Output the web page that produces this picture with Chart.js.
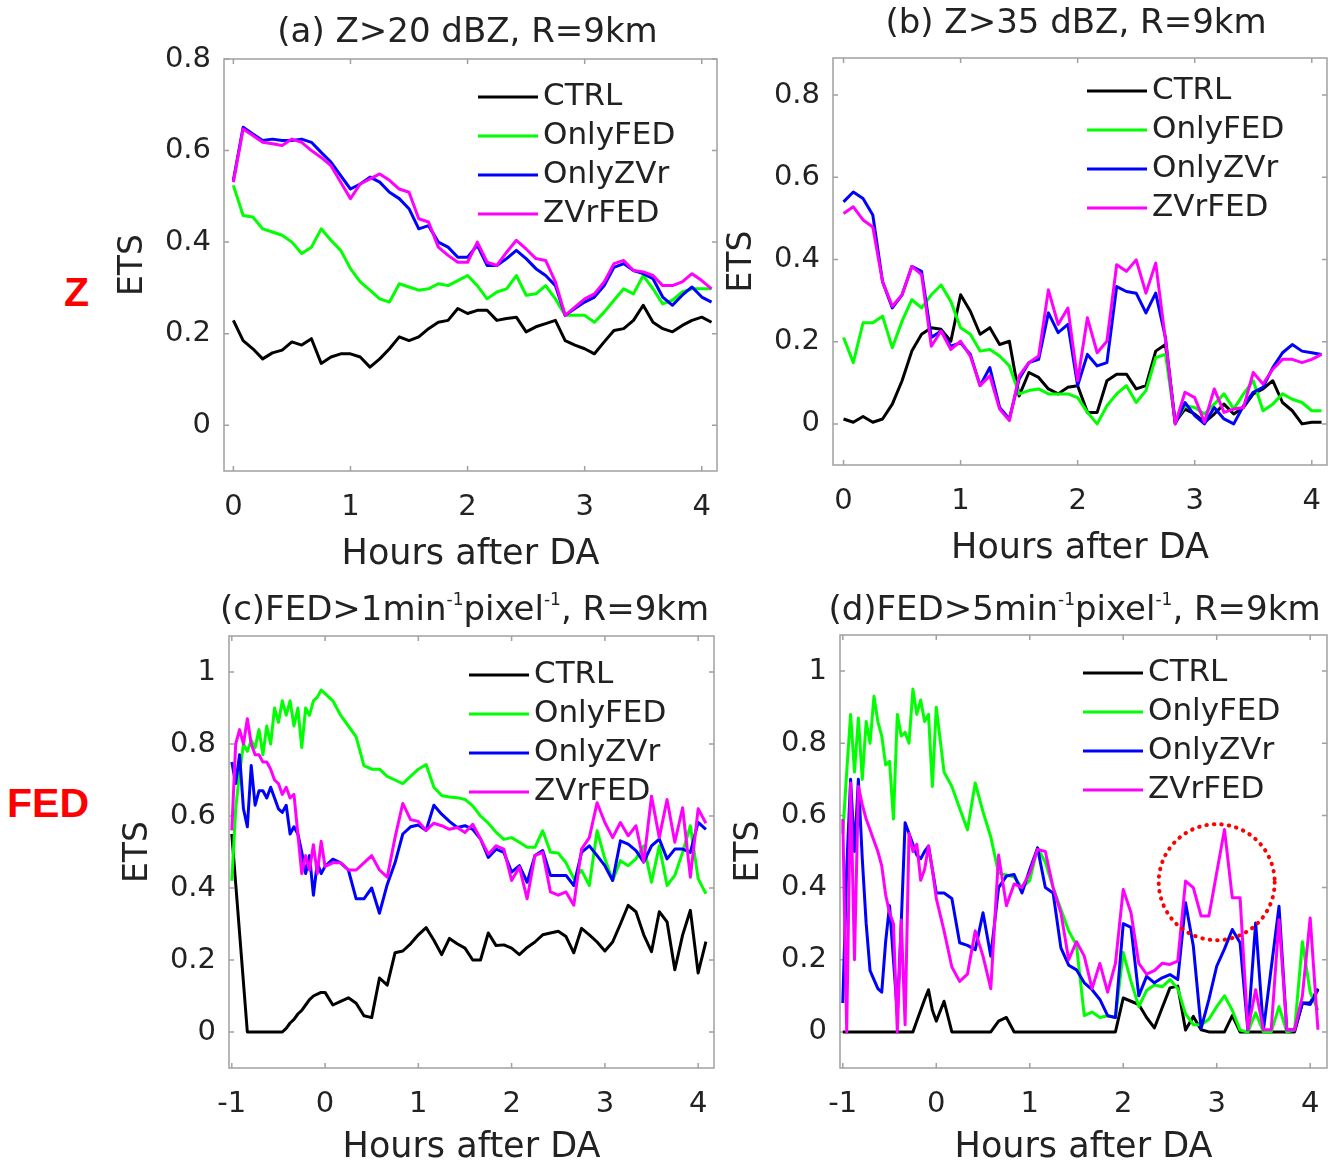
<!DOCTYPE html>
<html>
<head>
<meta charset="utf-8">
<script src="https://cdn.jsdelivr.net/npm/chart.js@4.4.1/dist/chart.umd.min.js"></script>
<style>
  body { margin: 0; background: #fff; }
  #page { position: relative; width: 1329px; height: 1169px; overflow: hidden; background: #fff; }
  #page canvas { position: absolute; }
  .rowLabel { position: absolute; color: #ff0000; font: bold 41px "Liberation Sans", Arial, sans-serif; line-height: 1; }
</style>
</head>
<body>
<div id="page">
  <canvas id="panelA" width="608" height="576" style="left:114px;top:0px"></canvas>
  <canvas id="panelB" width="606" height="570" style="left:723px;top:0px"></canvas>
  <canvas id="panelC" width="603" height="580" style="left:119px;top:589px"></canvas>
  <canvas id="panelD" width="599" height="580" style="left:730px;top:589px"></canvas>
  <div class="rowLabel" style="left:64px;top:272px">Z</div>
  <div class="rowLabel" style="left:7px;top:783px">FED</div>
</div>
<script>
// sampling times (minutes after DA)
const minutesZ = [0,5,10,15,20,25,30,35,40,45,50,55,60,65,70,75,80,85,90,95,100,105,110,115,120,
  125,130,135,140,145,150,155,160,165,170,175,180,185,190,195,200,205,210,215,220,225,230,235,240,245];
const minutesFED = [-60,-57.5,-55,-52.5,-50,-47.5,-45,-42.5,-40,-37.5,-35,-32.5,-30,-27.5,-25,-22.5,-20,
  -17.5,-15,-12.5,-10,-7.5,-5,-2.5,0,
  5,10,15,20,25,30,35,40,45,50,55,60,65,70,75,80,85,90,95,100,105,110,115,120,
  125,130,135,140,145,150,155,160,165,170,175,180,185,190,195,200,205,210,215,220,225,230,235,240,245];

const seriesNames = ['CTRL', 'OnlyFED', 'OnlyZVr', 'ZVrFED'];
const seriesColors = ['#000000', '#00ff00', '#0000ff', '#ff00ff'];

const xTicksZ = [0, 1, 2, 3, 4];
const xTicksFED = [-1, 0, 1, 2, 3, 4];
const yTicksZ = [0, 0.2, 0.4, 0.6, 0.8];
const yTicksFED = [0, 0.2, 0.4, 0.6, 0.8, 1];

// (a) Z>20 dBZ
const ctrlA = [0.229,0.185,0.167,0.145,0.158,0.164,0.182,0.175,0.189,0.135,0.149,0.156,0.156,0.149,0.127,0.145,0.167,0.193,0.185,0.193,
  0.211,0.225,0.229,0.255,0.244,0.251,0.251,0.229,0.233,0.236,0.204,0.215,0.222,0.229,0.185,0.175,0.167,0.156,0.182,0.207,
  0.211,0.229,0.262,0.225,0.211,0.204,0.218,0.229,0.236,0.225];
const fedA = [0.524,0.458,0.455,0.429,0.422,0.415,0.4,0.375,0.389,0.429,0.404,0.382,0.342,0.313,0.295,0.276,0.269,0.309,0.302,0.295,
  0.298,0.309,0.305,0.316,0.327,0.305,0.276,0.291,0.298,0.327,0.284,0.287,0.305,0.276,0.24,0.24,0.24,0.225,0.247,0.273,
  0.298,0.287,0.327,0.298,0.265,0.273,0.291,0.298,0.298,0.298];
const zvrA = [0.535,0.651,0.636,0.622,0.625,0.622,0.622,0.625,0.618,0.596,0.575,0.545,0.516,0.527,0.542,0.531,0.509,0.495,0.473,0.429,
  0.436,0.4,0.389,0.367,0.367,0.393,0.349,0.349,0.364,0.382,0.364,0.342,0.327,0.305,0.24,0.255,0.269,0.28,0.305,0.345,
  0.353,0.338,0.331,0.32,0.28,0.262,0.284,0.302,0.28,0.269];
const zvrfedA = [0.531,0.647,0.633,0.618,0.615,0.611,0.625,0.618,0.6,0.585,0.567,0.531,0.495,0.527,0.538,0.549,0.535,0.516,0.509,0.451,
  0.444,0.389,0.371,0.356,0.356,0.4,0.356,0.349,0.378,0.404,0.385,0.364,0.36,0.313,0.24,0.258,0.276,0.287,0.313,0.353,
  0.36,0.338,0.335,0.327,0.305,0.305,0.313,0.331,0.316,0.298];

// (b) Z>35 dBZ
const ctrlB = [0.012,0.004,0.018,0.004,0.012,0.048,0.105,0.177,0.218,0.234,0.23,0.201,0.314,0.274,0.218,0.234,0.193,0.201,0.068,0.125,
  0.113,0.085,0.073,0.089,0.093,0.028,0.028,0.105,0.121,0.121,0.085,0.093,0.177,0.193,0.004,0.036,0.024,0.004,0.024,0.048,
  0.024,0.04,0.073,0.085,0.105,0.052,0.032,0.0,0.004,0.004];
const fedB = [0.21,0.149,0.246,0.246,0.262,0.185,0.25,0.302,0.282,0.314,0.338,0.298,0.234,0.218,0.177,0.181,0.165,0.141,0.073,0.081,
  0.085,0.073,0.073,0.073,0.064,0.028,0.0,0.044,0.073,0.093,0.052,0.081,0.161,0.169,0.004,0.044,0.04,0.024,0.048,0.073,
  0.036,0.073,0.105,0.032,0.048,0.073,0.06,0.052,0.032,0.032];
const zvrB = [0.54,0.564,0.548,0.508,0.346,0.282,0.314,0.383,0.371,0.21,0.226,0.189,0.197,0.169,0.093,0.137,0.04,0.012,0.109,0.149,
  0.157,0.27,0.222,0.242,0.093,0.169,0.141,0.149,0.334,0.322,0.318,0.27,0.318,0.21,0.0,0.052,0.02,0.0,0.04,0.012,
  0.0,0.044,0.077,0.089,0.137,0.173,0.193,0.177,0.173,0.169];
const zvrfedB = [0.512,0.528,0.496,0.479,0.346,0.286,0.314,0.383,0.363,0.189,0.226,0.181,0.201,0.165,0.093,0.117,0.036,0.008,0.117,0.149,
  0.165,0.326,0.242,0.282,0.105,0.258,0.173,0.201,0.387,0.371,0.399,0.318,0.391,0.205,0.0,0.077,0.064,0.004,0.085,0.028,
  0.036,0.04,0.125,0.097,0.133,0.157,0.157,0.149,0.157,0.169];

// (c) FED>1
const ctrlC = [0.55,null,null,null,0,0,0,0,0,0,0,0,0,0,0.01,0.025,0.035,0.05,0.06,0.075,0.09,0.10,0.105,0.11,0.11,
  0.075,0.085,0.095,0.08,0.045,0.04,0.15,0.13,0.22,0.225,0.245,0.27,0.29,0.255,0.215,0.26,0.245,0.233,0.20,0.20,
  0.275,0.24,0.242,0.233,0.215,0.235,0.25,0.27,0.275,0.28,0.265,0.22,0.288,0.27,0.25,0.225,0.25,0.30,0.352,0.334,
  0.27,0.223,0.334,0.306,0.173,0.269,0.338,0.164,0.251];
const fedC = [0.42,0.62,0.72,0.80,0.78,0.81,0.79,0.84,0.77,0.85,0.80,0.90,0.86,0.92,0.88,0.92,0.85,0.90,0.79,0.90,0.88,0.92,0.93,0.95,0.94,
  0.92,0.88,0.85,0.82,0.74,0.73,0.73,0.71,0.70,0.69,0.71,0.73,0.743,0.68,0.657,0.653,0.651,0.646,0.628,0.60,
  0.58,0.555,0.535,0.54,0.527,0.513,0.513,0.559,0.499,0.497,0.47,0.426,0.449,0.407,0.559,0.481,0.421,0.476,0.462,0.481,
  0.517,0.416,0.517,0.407,0.435,0.499,0.573,0.426,0.384];
const zvrC = [0.75,0.69,0.77,0.62,0.57,0.74,0.63,0.67,0.67,0.65,0.68,0.65,0.62,0.61,0.63,0.55,0.57,0.55,0.50,0.44,0.49,0.38,0.47,0.44,0.46,
  0.48,0.47,0.45,0.37,0.37,0.40,0.33,0.41,0.47,0.55,0.57,0.575,0.56,0.63,0.605,0.585,0.568,0.573,0.563,0.536,
  0.485,0.508,0.499,0.444,0.462,0.416,0.49,0.504,0.435,0.435,0.435,0.407,0.499,0.517,0.49,0.462,0.421,0.531,0.522,0.504,
  0.472,0.517,0.536,0.481,0.508,0.508,0.499,0.582,0.563];
const zvrfedC = [0.56,0.80,0.84,0.80,0.87,0.80,0.77,0.77,0.75,0.75,0.73,0.70,0.69,0.66,0.68,0.65,0.66,0.55,0.44,0.49,0.45,0.52,0.44,0.53,0.46,
  0.47,0.47,0.45,0.45,0.47,0.49,0.45,0.43,0.54,0.635,0.59,0.585,0.56,0.58,0.573,0.563,0.568,0.554,0.577,0.536,
  0.494,0.517,0.508,0.421,0.458,0.37,0.49,0.499,0.389,0.38,0.389,0.352,0.508,0.54,0.637,0.582,0.54,0.582,0.545,0.573,
  0.472,0.655,0.54,0.646,0.527,0.623,0.43,0.62,0.58];

// (d) FED>5
const ctrlD = [0,0,0,0,0,0,0,0,0,0,0,0,0,0,0,0,0,0,0,0.03,0.06,0.09,0.117,0.06,0.03,
  0.085,0,0,0,0,0,0,0.03,0.04,0,0,0,0,0,0,0,0,0,0,0,
  0,0,0,0.094,0.085,0.076,0.04,0.011,0.067,0.122,0.127,0.005,0.043,0.006,0,0,0,0.045,0,0,
  0,0,0,0,0,0,0.08,0.08,0.12];
const fedD = [0.55,0.72,0.88,0.72,0.87,0.70,0.86,0.80,0.93,0.86,0.82,0.74,0.75,0.59,0.88,0.82,0.83,0.80,0.95,0.88,0.92,0.86,0.88,0.68,0.90,
  0.72,0.68,0.62,0.56,0.69,0.61,0.54,0.44,0.435,0.43,0.40,0.42,0.51,0.47,0.40,0.34,0.28,0.24,0.045,0.055,
  0.04,0.045,0.04,0.22,0.14,0.07,0.115,0.13,0.125,0.145,0.12,0.05,0.02,0.02,0.035,0.07,0.10,0.06,0.005,0.0,
  0.053,0.0,0.0,0.07,0.0,0.005,0.25,0.11,0.06];
const zvrD = [0.08,0.45,0.70,0.50,0.70,0.48,0.30,0.17,0.145,0.12,0.11,0.25,0.35,0.20,0.05,0.30,0.58,0.55,0.52,0.49,0.48,0.50,0.515,0.45,0.385,
  0.385,0.37,0.247,0.24,0.228,0.33,0.21,0.40,0.432,0.436,0.385,0.45,0.51,0.40,0.385,0.233,0.185,0.172,0.136,0.117,
  0.09,0.045,0.04,0.30,0.29,0.10,0.154,0.136,0.15,0.159,0.145,0.358,0.238,0.01,0.09,0.182,0.23,0.284,0.247,0.006,
  0.302,0.006,null,0.348,0.006,0.006,0.08,0.076,0.117];
const zvrfedD = [0.59,0.0,0.69,0.20,0.68,0.63,0.59,0.56,0.53,0.50,0.46,0.38,0.33,0.30,0.0,0.31,0.02,0.55,0.50,0.52,0.42,0.45,0.515,0.45,0.37,
  0.28,0.18,0.14,0.16,0.28,0.21,0.12,0.49,0.35,0.41,0.40,0.44,0.506,0.50,0.40,0.33,0.20,0.25,0.21,0.12,
  0.19,0.11,0.19,0.395,0.33,0.19,0.16,0.17,0.19,0.187,0.196,0.418,0.40,0.321,0.321,null,0.561,0.372,0.372,0.006,
  0.117,0.006,0.006,0.311,0.006,0.006,0.1,0.316,0.006];

// red dotted ring in (d), centre in data units, radius in px
const ringCentre = { x: 3.0, y: 0.415 };
const ringRadius = 58;

Chart.defaults.font.family = '"DejaVu Sans", sans-serif';
Chart.defaults.color = '#222';

// MATLAB style box with inward ticks on all four sides
const boxPlugin = {
  id: 'matlabBox',
  beforeDatasetsDraw(chart) {
    const { ctx, chartArea: a, scales } = chart;
    ctx.save();
    ctx.strokeStyle = '#a0a0a0';
    ctx.lineWidth = 1.5;
    ctx.strokeRect(a.left, a.top, a.right - a.left, a.bottom - a.top);
    ctx.beginPath();
    scales.x.ticks.forEach(t => {
      const px = scales.x.getPixelForValue(t.value);
      ctx.moveTo(px, a.bottom); ctx.lineTo(px, a.bottom - 5);
      ctx.moveTo(px, a.top); ctx.lineTo(px, a.top + 5);
    });
    scales.y.ticks.forEach(t => {
      const py = scales.y.getPixelForValue(t.value);
      ctx.moveTo(a.left, py); ctx.lineTo(a.left + 5, py);
      ctx.moveTo(a.right, py); ctx.lineTo(a.right - 5, py);
    });
    ctx.stroke();
    ctx.restore();
  }
};

const legendPlugin = {
  id: 'insideLegend',
  afterDatasetsDraw(chart, args, opts) {
    const { ctx, chartArea: a } = chart;
    const x0 = a.right - opts.right;
    let y = a.top + opts.top;
    ctx.save();
    ctx.font = '31px "DejaVu Sans"';
    ctx.textBaseline = 'middle';
    ctx.textAlign = 'left';
    chart.data.datasets.forEach(ds => {
      ctx.strokeStyle = ds.borderColor;
      ctx.lineWidth = 3;
      ctx.beginPath();
      ctx.moveTo(x0, y);
      ctx.lineTo(x0 + 60, y);
      ctx.stroke();
      ctx.fillStyle = '#222';
      ctx.fillText(ds.label, x0 + 65, y);
      y += 39;
    });
    ctx.restore();
  }
};

const ringPlugin = {
  id: 'ring',
  afterDatasetsDraw(chart) {
    const { ctx, scales } = chart;
    const cx = scales.x.getPixelForValue(ringCentre.x);
    const cy = scales.y.getPixelForValue(ringCentre.y);
    ctx.save();
    ctx.strokeStyle = '#ff0000';
    ctx.lineWidth = 4;
    ctx.lineCap = 'round';
    ctx.setLineDash([0.5, 7]);
    ctx.beginPath();
    ctx.arc(cx, cy, ringRadius, 0, Math.PI * 2);
    ctx.stroke();
    ctx.restore();
  }
};

// panel title centred over the plot box, with small raised "-1" parts
function titlePlugin(parts, gap, shift) {
  return {
    id: 'panelTitle',
    afterDraw(chart) {
      const { ctx, chartArea: a } = chart;
      const big = '34px "DejaVu Sans"';
      const small = '17px "DejaVu Sans"';
      ctx.save();
      let w = 0;
      parts.forEach(p => { ctx.font = p.sup ? small : big; w += ctx.measureText(p.text).width; });
      let x = (a.left + a.right) / 2 - w / 2 + shift;
      const y = a.top - gap;
      ctx.textBaseline = 'middle';
      ctx.textAlign = 'left';
      ctx.fillStyle = '#222';
      parts.forEach(p => {
        ctx.font = p.sup ? small : big;
        ctx.fillText(p.text, x, p.sup ? y - 10 : y);
        x += ctx.measureText(p.text).width;
      });
      ctx.restore();
    }
  };
}

function fmtTick(v) {
  return String(Math.round(v * 10) / 10);
}

function makePanel(id, p) {
  const hours = p.minutes.map(m => m / 60);
  const datasets = p.values.map((vals, i) => ({
    label: seriesNames[i],
    data: hours.map((h, j) => ({ x: h, y: vals[j] })),
    borderColor: seriesColors[i],
    backgroundColor: seriesColors[i],
    borderWidth: 3,
    pointRadius: 0,
    tension: 0,
    spanGaps: true,
    borderJoinStyle: 'round',
    order: 4 - i
  }));
  const plugins = [boxPlugin, legendPlugin, titlePlugin(p.title, p.titleGap, p.titleShift)];
  if (p.extra) plugins.push(p.extra);
  return new Chart(document.getElementById(id), {
    type: 'line',
    data: { datasets },
    plugins,
    options: {
      responsive: false,
      animation: false,
      events: [],
      layout: { padding: { left: 0, top: p.padTop, right: p.padRight, bottom: 0 } },
      plugins: {
        legend: { display: false },
        tooltip: { enabled: false },
        title: { display: false },
        insideLegend: { right: p.legendRight, top: p.legendTop }
      },
      scales: {
        x: {
          type: 'linear',
          min: p.xMin, max: p.xMax,
          grid: { display: false, drawTicks: false },
          border: { display: false },
          afterBuildTicks: axis => { axis.ticks = p.xTicks.map(v => ({ value: v })); },
          afterFit: axis => { axis.height = p.xAxisHeight; axis.paddingLeft = 0; axis.paddingRight = 0; },
          ticks: { font: { size: 29 }, padding: 19, autoSkip: false, maxRotation: 0, callback: v => fmtTick(v) },
          title: { display: true, text: 'Hours after DA', font: { size: 35 }, padding: { top: 0, bottom: 0 } }
        },
        y: {
          type: 'linear',
          min: p.yMin, max: p.yMax,
          grid: { display: false, drawTicks: false },
          border: { display: false },
          afterBuildTicks: axis => { axis.ticks = p.yTicks.map(v => ({ value: v })); },
          afterFit: axis => { axis.width = 110; axis.paddingTop = 0; axis.paddingBottom = 0; },
          ticks: { font: { size: 29 }, padding: 13, autoSkip: false, callback: v => fmtTick(v) },
          title: { display: true, text: 'ETS', font: { size: 33 }, padding: { top: 0, bottom: 0 } }
        }
      }
    }
  });
}

const sup = t => ({ text: t, sup: true });
const txt = t => ({ text: t });

makePanel('panelA', {
  title: [txt('(a) Z>20 dBZ, R=9km')], titleGap: 26, titleShift: -3,
  minutes: minutesZ, values: [ctrlA, fedA, zvrA, zvrfedA],
  xMin: -0.08, xMax: 4.13, yMin: -0.1, yMax: 0.8, xTicks: xTicksZ, yTicks: yTicksZ,
  padTop: 59, padRight: 5, xAxisHeight: 105, legendRight: 239, legendTop: 38
});
makePanel('panelB', {
  title: [txt('(b) Z>35 dBZ, R=9km')], titleGap: 34, titleShift: -4,
  minutes: minutesZ, values: [ctrlB, fedB, zvrB, zvrfedB],
  xMin: -0.09, xMax: 4.13, yMin: -0.1, yMax: 0.89, xTicks: xTicksZ, yTicks: yTicksZ,
  padTop: 58, padRight: 2, xAxisHeight: 105, legendRight: 240, legendTop: 33
});
makePanel('panelC', {
  title: [txt('(c)FED>1min'), sup('-1'), txt('pixel'), sup('-1'), txt(', R=9km')], titleGap: 25, titleShift: -7,
  minutes: minutesFED, values: [ctrlC, fedC, zvrC, zvrfedC],
  xMin: -1.03, xMax: 4.17, yMin: -0.1, yMax: 1.1, xTicks: xTicksFED, yTicks: yTicksFED,
  padTop: 47, padRight: 8, xAxisHeight: 101, legendRight: 245, legendTop: 39
});
makePanel('panelD', {
  title: [txt('(d)FED>5min'), sup('-1'), txt('pixel'), sup('-1'), txt(', R=9km')], titleGap: 24, titleShift: -9,
  minutes: minutesFED, values: [ctrlD, fedD, zvrD, zvrfedD],
  xMin: -1.03, xMax: 4.18, yMin: -0.1, yMax: 1.1, xTicks: xTicksFED, yTicks: yTicksFED,
  padTop: 46, padRight: 2, xAxisHeight: 101, legendRight: 244, legendTop: 38,
  extra: ringPlugin
});
</script>
</body>
</html>
